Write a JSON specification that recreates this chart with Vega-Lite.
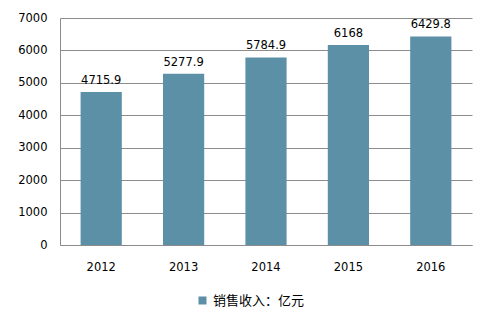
{
  "$schema": "https://vega.github.io/schema/vega-lite/v6.json",
  "width": 412,
  "height": 227,
  "autosize": {"type": "none"},
  "padding": {"left": 60, "top": 18, "right": 19, "bottom": 82},
  "background": "white",
  "config": {
    "view": {"stroke": null},
    "font": "DejaVu Sans"
  },
  "data": {
    "values": [
      {"year": "2012", "value": 4715.9, "series": "销售收入：亿元"},
      {"year": "2013", "value": 5277.9, "series": "销售收入：亿元"},
      {"year": "2014", "value": 5784.9, "series": "销售收入：亿元"},
      {"year": "2015", "value": 6168, "series": "销售收入：亿元"},
      {"year": "2016", "value": 6429.8, "series": "销售收入：亿元"}
    ]
  },
  "encoding": {
    "x": {
      "field": "year",
      "type": "ordinal",
      "scale": {"paddingInner": 0.5, "paddingOuter": 0.25},
      "axis": {
        "title": null,
        "labelAngle": 0,
        "labelFontSize": 11.5,
        "labelColor": "#000000",
        "labelPadding": 16,
        "ticks": false,
        "domainColor": "#8c8c8c",
        "domainWidth": 1
      }
    },
    "y": {
      "field": "value",
      "type": "quantitative",
      "scale": {"domain": [0, 7000], "nice": false},
      "axis": {
        "title": null,
        "format": "d",
        "values": [0, 1000, 2000, 3000, 4000, 5000, 6000, 7000],
        "labelFontSize": 11.5,
        "labelColor": "#000000",
        "labelPadding": 13,
        "ticks": false,
        "gridColor": "#8c8c8c",
        "gridWidth": 1,
        "gridOpacity": 1,
        "domainColor": "#8c8c8c",
        "domainWidth": 1
      }
    }
  },
  "layer": [
    {
      "mark": {"type": "bar", "color": "#5b90a7"},
      "encoding": {
        "color": {
          "field": "series",
          "type": "nominal",
          "scale": {"range": ["#5b90a7"]},
          "legend": {
            "title": null,
            "orient": "none",
            "legendX": 136,
            "legendY": 276,
            "symbolType": "square",
            "symbolSize": 64,
            "labelFontSize": 13,
            "labelFont": "Noto Sans CJK SC",
            "labelColor": "#000000",
            "labelOffset": 4
          }
        }
      }
    },
    {
      "mark": {"type": "text", "baseline": "bottom", "dy": -6, "fontSize": 11.5, "color": "#000000"},
      "encoding": {
        "text": {"field": "value", "type": "quantitative", "format": ".5~"}
      }
    }
  ]
}
